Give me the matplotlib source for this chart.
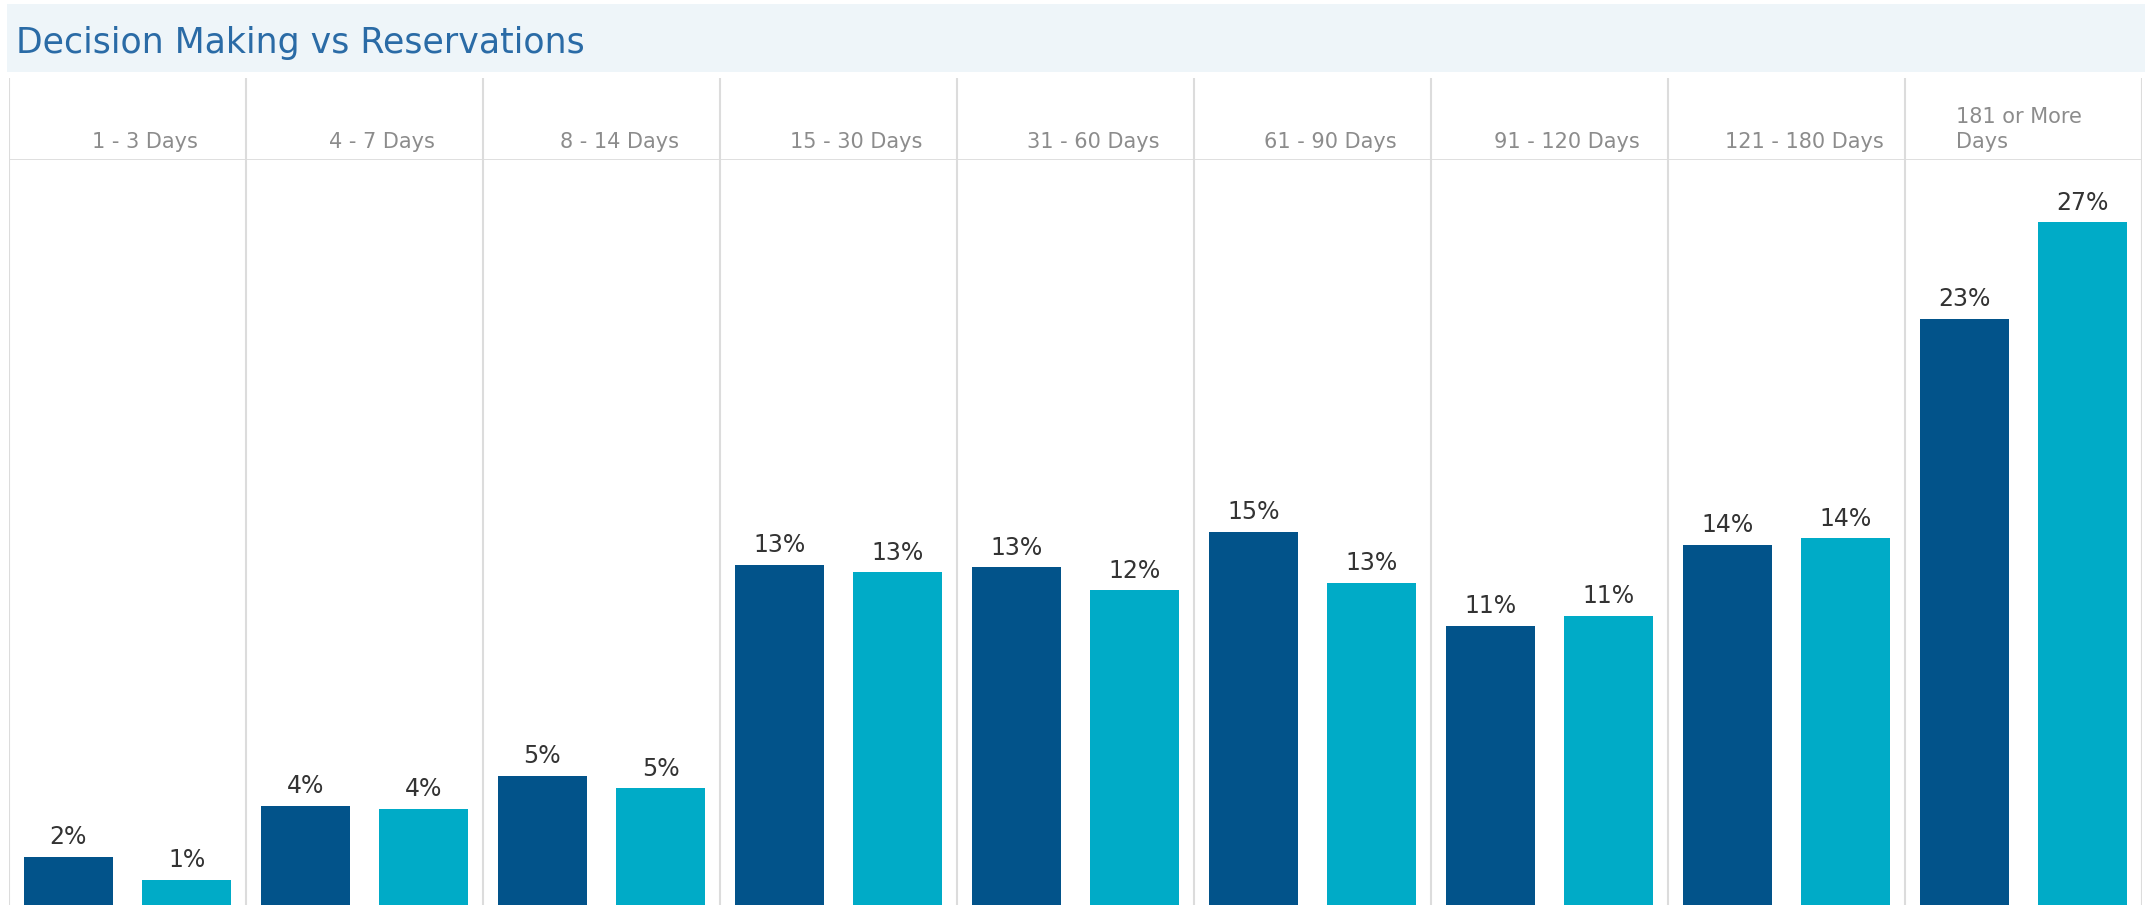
import numpy as np
import matplotlib.pyplot as plt
from matplotlib.patches import Rectangle

# data
categories = ['1 - 3 Days', '4 - 7 Days', '8 - 14 Days', '15 - 30 Days',
              '31 - 60 Days', '61 - 90 Days', '91 - 120 Days',
              '121 - 180 Days', '181 or More\nDays']
decision = [1.9, 3.9, 5.1, 13.4, 13.3, 14.7, 11.0, 14.2, 23.1]
reservations = [1.0, 3.8, 4.6, 13.1, 12.4, 12.7, 11.4, 14.45, 26.9]

# styles
c_dark = '#02538A'
c_light = '#00ABC7'
c_grid = '#DCDCDC'
c_title = '#2A6BA6'
c_band = '#EEF5F9'
plt.rcParams['font.family'] = 'DejaVu Sans'

W, H = 2145, 905
fig = plt.figure(figsize=(W/100, H/100), dpi=100)

# title band
fig.patches.append(Rectangle((7/W, 1-72/H), 1-7/W, 68/H, transform=fig.transFigure,
                             facecolor=c_band, edgecolor='none', zorder=0))
fig.text(16/W, 1-43/H, 'Decision Making vs Reservations', color=c_title,
         fontsize=25, va='center', ha='left')

n = len(categories)
x = np.arange(n)
bw = 0.375

# header row
axh = fig.add_axes([9/W, 1-160/H, 2133/W, 82/H])
axh.set_xlim(0, n)
axh.set_ylim(0, 1)
axh.axis('off')
for i in range(n + 1):
    axh.axvline(i, color=c_grid, lw=1.5)
axh.axhline(0, color=c_grid, lw=2)
for i, lab in enumerate(categories):
    if '\n' in lab:
        axh.text(i + 0.48, 0.1, lab, ha='center', va='bottom', multialignment='left',
                 color='#8C8C8C', fontsize=15, linespacing=1.3)
    else:
        axh.text(i + 0.575, 0.1, lab, ha='center', va='bottom',
                 color='#8C8C8C', fontsize=15)

# bars
ax = fig.add_axes([9/W, 0, 2133/W, 1-160/H])
ax.set_xlim(0, n)
ax.set_ylim(0, 29.35)
ax.axis('off')
for i in range(n + 1):
    ax.axvline(i, color=c_grid, lw=1.5, zorder=0)
ax.bar(x + 0.25, decision, width=bw, color=c_dark, zorder=2)
ax.bar(x + 0.75, reservations, width=bw, color=c_light, zorder=2)
for xi, v in zip(x, decision):
    ax.text(xi + 0.25, v + 0.3, f'{round(v)}%', ha='center', va='bottom',
            fontsize=17, color='#333333')
for xi, v in zip(x, reservations):
    ax.text(xi + 0.75, v + 0.3, f'{round(v)}%', ha='center', va='bottom',
            fontsize=17, color='#333333')

fig.savefig('out.png', dpi=100)
